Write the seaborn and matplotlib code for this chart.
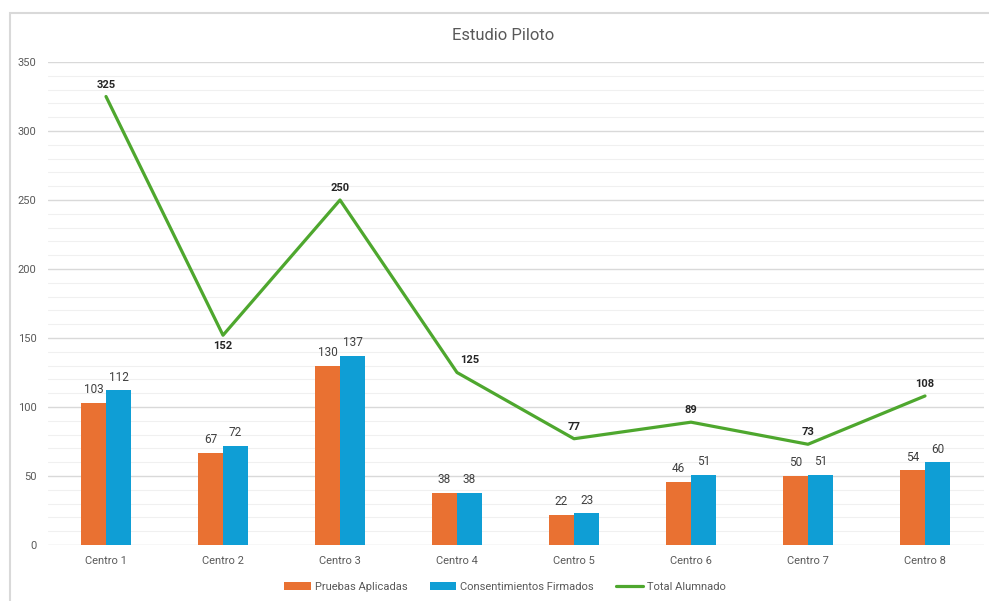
import numpy as np
import pandas as pd
import matplotlib
matplotlib.use("Agg")
import matplotlib.pyplot as plt
from matplotlib.patches import Rectangle, Patch
from matplotlib.lines import Line2D
from matplotlib.ticker import MultipleLocator
import seaborn as sns

# Data
centros = ["Centro 1", "Centro 2", "Centro 3", "Centro 4",
           "Centro 5", "Centro 6", "Centro 7", "Centro 8"]
pruebas_aplicadas = [103, 67, 130, 38, 22, 46, 50, 54]
consentimientos_firmados = [112, 72, 137, 38, 23, 51, 51, 60]
total_alumnado = [325, 152, 250, 125, 77, 89, 73, 108]

serie_pruebas = "Pruebas Aplicadas"
serie_consent = "Consentimientos Firmados"
serie_total = "Total Alumnado"

c_orange = "#E97132"
c_blue = "#0F9ED5"
c_green = "#4EA72E"
c_text = "#595959"

sns.set_theme(style="white")
plt.rcParams["font.family"] = ["Roboto", "DejaVu Sans"]

df = pd.DataFrame({
    "centro": centros * 2,
    "valor": pruebas_aplicadas + consentimientos_firmados,
    "serie": [serie_pruebas] * len(centros) + [serie_consent] * len(centros),
})

W, H = 989, 601
fig = plt.figure(figsize=(W / 100, H / 100), dpi=100)
ax = fig.add_axes([47.5 / W, 56 / H, (983.5 - 47.5) / W, (545 - 62) / H])

sns.barplot(data=df, x="centro", y="valor", hue="serie",
            palette=[c_orange, c_blue], width=0.43, linewidth=0,
            saturation=1, dodge=True, legend=False, ax=ax)

x_pos = np.arange(len(centros))
sns.lineplot(x=x_pos, y=total_alumnado, color=c_green, linewidth=2.3,
             ax=ax, legend=False)

ax.set_xlim(-0.5, len(centros) - 0.5)
ax.set_ylim(0, 350)
ax.yaxis.set_major_locator(MultipleLocator(50))
ax.yaxis.set_minor_locator(MultipleLocator(10))
ax.grid(which="major", axis="y", color="#d9d9d9", linewidth=1.0)
ax.grid(which="minor", axis="y", color="#f0f0f0", linewidth=0.8)
ax.set_axisbelow(True)
for s in ax.spines.values():
    s.set_visible(False)
ax.set_xlabel("")
ax.set_ylabel("")
ax.tick_params(axis="both", which="both", length=0, labelsize=8, labelcolor=c_text)
ax.tick_params(axis="y", pad=8)
ax.tick_params(axis="x", pad=8)

# Bar value labels
bw = 0.43 / 2
for i in range(len(centros)):
    for off, vals in ((-bw / 2, pruebas_aplicadas), (bw / 2, consentimientos_firmados)):
        ax.annotate(str(vals[i]), (i + off, vals[i]), xytext=(0, 9.5),
                    textcoords="offset points", ha="center", va="center",
                    fontsize=8.5, color="#404040")

# Line value labels (one below the point, one nudged right off the line)
label_offsets = {152: (0, -8), 125: (9, 9)}
for i, v in enumerate(total_alumnado):
    dx, dy = label_offsets.get(v, (0, 8.5))
    ax.annotate(str(v), (i, v), xytext=(dx, dy), textcoords="offset points",
                ha="center", va="center", fontsize=8, fontweight="bold",
                color="#262626")

# Chart frame
fig.add_artist(Rectangle((10 / W, -0.05), 1.2, 1 - 13 / H + 0.05,
                         transform=fig.transFigure, fill=False,
                         edgecolor="#d9d9d9", linewidth=1.5))

fig.text(503 / W, 1 - 35 / H, "Estudio Piloto", ha="center", va="center",
         fontsize=12, color=c_text)

handles = [Patch(facecolor=c_orange, edgecolor="none"),
           Patch(facecolor=c_blue, edgecolor="none"),
           Line2D([0], [0], color=c_green, linewidth=2.3)]
fig.legend(handles, [serie_pruebas, serie_consent, serie_total],
           loc="center", bbox_to_anchor=(505 / W, 1 - 587 / H), ncol=3,
           frameon=False, fontsize=8, labelcolor=c_text,
           handlelength=2.4, handletextpad=0.35, columnspacing=2.0)

fig.savefig("out.png", dpi=100)
